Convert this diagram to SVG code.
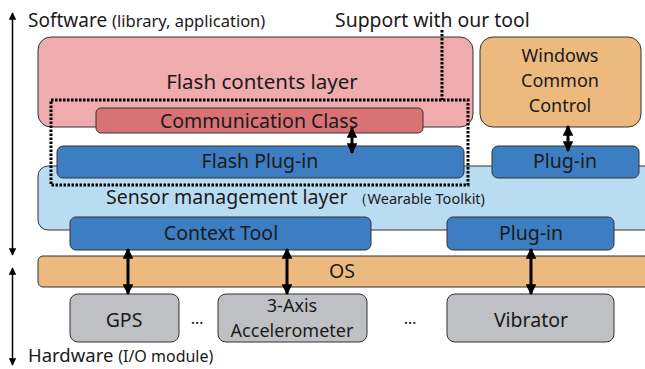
<svg xmlns="http://www.w3.org/2000/svg" width="645" height="369" viewBox="0 0 645 369">
<defs>
<marker id="ah" viewBox="0 0 10 10" refX="9" refY="5" markerWidth="3.6" markerHeight="3.6" orient="auto-start-reverse" markerUnits="strokeWidth">
<path d="M0,0 L10,5 L0,10 z" fill="#000"/>
</marker>
<marker id="ahs" viewBox="0 0 10 10" refX="9" refY="5" markerWidth="5" markerHeight="5" orient="auto-start-reverse" markerUnits="strokeWidth">
<path d="M0,0 L10,5 L0,10 z" fill="#000"/>
</marker>
<style>
text{font-family:"Noto Sans","Open Sans","DejaVu Sans",sans-serif;fill:#1a1a1a}
.box{stroke:#333;stroke-width:1}
.pink{fill:#efabad}
.comm{fill:#d97275}
.blue{fill:#3d7ec3}
.lblue{fill:#b9dcf2}
.orange{fill:#ecba7f}
.gray{fill:#bfc0c3}
.t{font-size:19.5px;text-anchor:middle}
.m{font-size:18px;text-anchor:middle}
.arr{stroke:#000;stroke-width:3;fill:none;marker-start:url(#ah);marker-end:url(#ah)}
.axis{stroke:#000;stroke-width:1.5;fill:none;marker-start:url(#ahs);marker-end:url(#ahs)}
</style>
</defs>
<g id="axis-labels">
<text x="28" y="27" font-size="19">Software <tspan font-size="16.5">(library, application)</tspan></text>
<text x="28" y="362" font-size="18.5">Hardware <tspan font-size="16">(I/O module)</tspan></text>
<text x="335" y="27" font-size="19.4">Support with our tool</text>
</g>
<g id="sensor-layer">
<rect class="box lblue" x="38" y="166" width="630" height="64" rx="10"/>
<text x="106" y="204" font-size="19.5">Sensor management layer <tspan font-size="14.5">（Wearable Toolkit)</tspan></text>
</g>
<g id="flash-contents">
<rect class="box pink" x="38" y="37" width="435" height="90" rx="13"/>
<text class="t" x="262" y="89" style="font-size:20.5px">Flash contents layer</text>
</g>
<g id="comm-class">
<rect class="box comm" x="96" y="108" width="327" height="25" rx="5"/>
<text class="t" x="259" y="128">Communication Class</text>
</g>
<g id="flash-plugin">
<rect class="box blue" x="57" y="146" width="407" height="32" rx="6"/>
<text class="t" x="260" y="168">Flash Plug-in</text>
</g>
<g id="windows-common-control">
<rect class="box orange" x="480" y="37" width="161" height="90" rx="13"/>
<text class="m" x="560" y="62">Windows</text>
<text class="m" x="560" y="87">Common</text>
<text class="m" x="560" y="112">Control</text>
</g>
<g id="plugin-upper">
<rect class="box blue" x="492" y="146" width="147" height="32" rx="6"/>
<text class="t" x="565" y="168">Plug-in</text>
</g>
<g id="context-tool">
<rect class="box blue" x="70" y="217" width="301" height="33" rx="6"/>
<text class="t" x="221" y="240">Context Tool</text>
</g>
<g id="plugin-lower">
<rect class="box blue" x="447" y="217" width="167" height="33" rx="6"/>
<text class="t" x="531" y="240">Plug-in</text>
</g>
<g id="os">
<rect class="box orange" x="38" y="256" width="630" height="31" rx="5"/>
<text class="t" x="342" y="278">OS</text>
</g>
<g id="gps">
<rect class="box gray" x="70" y="294" width="109" height="48" rx="8"/>
<text class="t" x="124" y="327">GPS</text>
</g>
<g id="accelerometer">
<rect class="box gray" x="218" y="294" width="149" height="48" rx="8"/>
<text class="m" x="292" y="312">3-Axis</text>
<text class="m" x="292" y="337">Accelerometer</text>
</g>
<g id="vibrator">
<rect class="box gray" x="447" y="294" width="167" height="48" rx="8"/>
<text class="t" x="531" y="327">Vibrator</text>
</g>
<g id="ellipses">
<text class="t" x="197" y="324" style="font-size:16px">…</text>
<text class="t" x="410" y="324" style="font-size:16px">…</text>
</g>
<g id="support-region">
<rect x="51" y="100" width="417" height="85" fill="none" stroke="#000" stroke-width="3" stroke-dasharray="2.5,1.5"/>
<line x1="442" y1="30" x2="442" y2="100" stroke="#000" stroke-width="3" stroke-dasharray="2.5,1.5"/>
</g>
<g id="connectors">
<line class="arr" x1="352" y1="128" x2="352" y2="153"/>
<line class="arr" x1="568" y1="126" x2="568" y2="151"/>
<line class="arr" x1="128" y1="249" x2="128" y2="294"/>
<line class="arr" x1="287" y1="249" x2="287" y2="294"/>
<line class="arr" x1="531" y1="249" x2="531" y2="294"/>
<line class="axis" x1="12.5" y1="13" x2="12.5" y2="255"/>
<line class="axis" x1="12.5" y1="268" x2="12.5" y2="365"/>
</g>
</svg>
